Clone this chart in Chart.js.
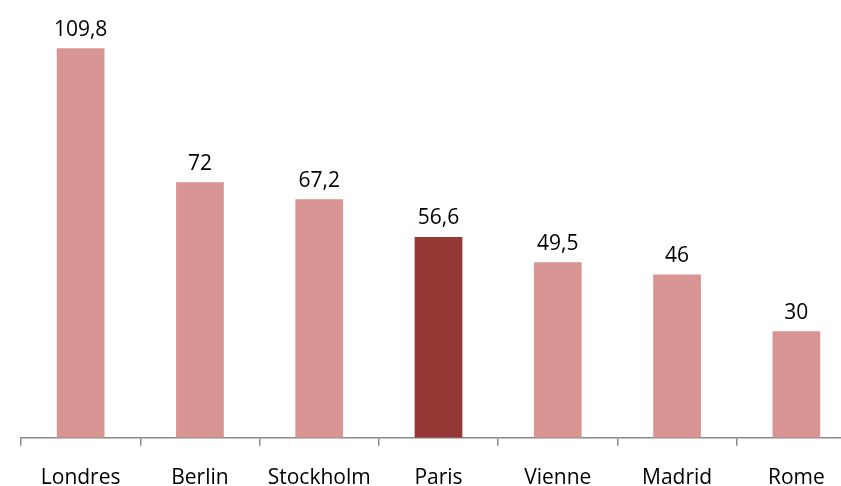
<!DOCTYPE html>
<html>
<head>
<meta charset="utf-8">
<script src="https://cdn.jsdelivr.net/npm/chart.js@4"></script>
<style>
  html, body { margin: 0; padding: 0; background: #fff; overflow: hidden; }
  #wrap { width: 860px; height: 519px; }
</style>
</head>
<body>
<div id="wrap"><canvas id="barChart"></canvas></div>
<script>
var villes = ['Londres', 'Berlin', 'Stockholm', 'Paris', 'Vienne', 'Madrid', 'Rome'];
var valeurs = [109.8, 72, 67.2, 56.6, 49.5, 46, 30];
var couleurs = ['#D99594', '#D99594', '#D99594', '#953735', '#D99594', '#D99594', '#D99594'];

// value printed above each bar, French decimal comma
var valueLabels = {
    id: 'valueLabels',
    afterDatasetsDraw: function (chart) {
        var ctx = chart.ctx;
        var meta = chart.getDatasetMeta(0);
        ctx.save();
        ctx.fillStyle = '#000';
        ctx.font = '21px "Open Sans"';
        ctx.textAlign = 'center';
        ctx.textBaseline = 'bottom';
        meta.data.forEach(function (bar, i) {
            var txt = String(valeurs[i]).replace('.', ',');
            ctx.fillText(txt, bar.x, bar.y - 8);
        });
        ctx.restore();
    }
};

var ctxBar = document.getElementById('barChart').getContext('2d');
new Chart(ctxBar, {
    type: 'bar',
    data: {
        labels: villes,
        datasets: [{
            data: valeurs,
            backgroundColor: couleurs,
            barPercentage: 0.4,
            categoryPercentage: 1
        }]
    },
    options: {
        responsive: true,
        maintainAspectRatio: false,
        animation: false,
        layout: { padding: { left: 21, right: 4, top: 12, bottom: 8 } },
        plugins: {
            legend: { display: false },
            tooltip: { enabled: false }
        },
        scales: {
            y: { display: false, min: 0, max: 120 },
            x: {
                border: { display: true, color: '#888', width: 1.5 },
                grid: {
                    drawOnChartArea: false,
                    drawTicks: true,
                    tickLength: 8,
                    color: '#888',
                    lineWidth: 1.5
                },
                ticks: {
                    color: '#000',
                    padding: 20,
                    font: { family: '"Open Sans"', size: 21 }
                }
            }
        }
    },
    plugins: [valueLabels]
});
</script>
</body>
</html>
